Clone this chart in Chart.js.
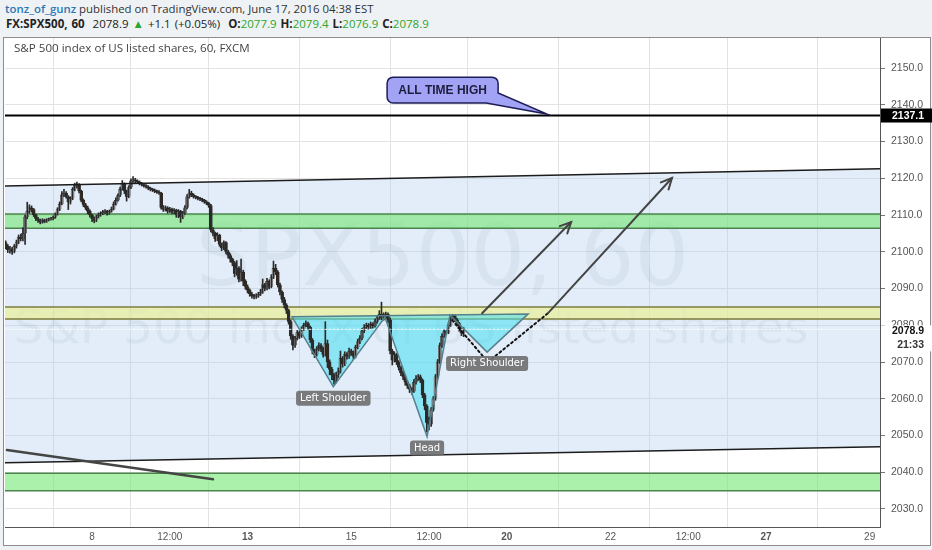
<!DOCTYPE html>
<html>
<head>
<meta charset="utf-8">
<script src="https://cdn.jsdelivr.net/npm/chart.js@4.4.1/dist/chart.umd.min.js"></script>
<style>
  html, body { margin: 0; padding: 0; background: #eff2f5; }
  #wrap { position: relative; width: 932px; height: 550px; overflow: hidden; }
  #h1 { position: absolute; left: 5px; top: 1px; font: 11.4px "Open Sans", sans-serif; color: #333; white-space: nowrap; }
  #h2 { position: absolute; left: 6px; top: 16px; font: 11.5px "Open Sans", sans-serif; color: #222; white-space: nowrap; word-spacing: 1px; }
  #h1 .u { color: #2a78b5; font-weight: 600; }
  .g { color: #2ca52c; }
  #pane { position: absolute; left: 3px; top: 37px; width: 928px; height: 509px; background: #fff; border: 1px solid #8c8c8c; box-sizing: border-box; }
  #pt { position: absolute; left: 14px; top: 40px; font: 11.6px "Open Sans", sans-serif; color: #444; z-index: 2; white-space: nowrap; }
  canvas { position: absolute; left: 0; top: 0; z-index: 1; }
</style>
</head>
<body>
<div id="wrap">
  <div id="h1"><span class="u">tonz_of_gunz</span> published on TradingView.com, June 17, 2016 04:38 EST</div>
  <div id="h2"><b>FX:SPX500, 60</b>&nbsp; 2078.9 <span class="g">&#9650;</span> +1.1 (+0.05%)&nbsp; <b>O:</b><span class="g">2077.9</span> <b>H:</b><span class="g">2079.4</span> <b>L:</b><span class="g">2076.9</span> <b>C:</b><span class="g">2078.9</span></div>
  <div id="pane"></div>
  <canvas id="chart" width="932" height="550"></canvas>
  <div id="pt">S&amp;P 500 index of US listed shares, 60, FXCM</div>
</div>
<script>
// hourly candles, x = trading hours counted from June 8 00:00
const firstHour = -40;
const opens = [
  2102.5, 2101.5, 2100.5, 2100.8, 2100, 2101.5, 2102.5, 2104, 2103.5, 2105,
  2109.5, 2111, 2112, 2111.5, 2110, 2109, 2108.5, 2108, 2108.6, 2108.2,
  2108.7, 2108.9, 2109, 2109.4, 2110.2, 2111.5, 2113, 2115.5, 2116, 2115,
  2113.5, 2114.5, 2117, 2118, 2118.3, 2116.5, 2114, 2112.8, 2112, 2111,
  2110, 2109, 2108.5, 2109.5, 2110, 2110.4, 2110.8, 2111, 2110.5, 2111,
  2111.6, 2113, 2114, 2115.3, 2117, 2118.5, 2116.5, 2115, 2117.5, 2119.3,
  2119.6, 2119.2, 2119, 2118.6, 2118.3, 2118, 2117.7, 2117.3, 2117, 2116.8,
  2116.5, 2116.3, 2116, 2112, 2111.5, 2112, 2111, 2111.6, 2110.8, 2111.3,
  2110, 2111, 2109.5, 2110.5, 2112, 2115, 2116, 2115.5, 2115, 2114.8,
  2114.5, 2114.3, 2114, 2113.6, 2113.2, 2112.6, 2106, 2105, 2103.5, 2104.5,
  2102, 2101, 2102.5, 2100, 2099, 2098, 2097, 2094, 2095.5, 2092.5,
  2094.5, 2092, 2090.5, 2089.5, 2088.5, 2088, 2087.8, 2088, 2088.5, 2089,
  2091, 2090, 2092, 2090.5, 2093, 2095.5, 2094.5, 2091, 2089, 2087,
  2085.5, 2084, 2081, 2077, 2074.5, 2076.5, 2078, 2077, 2079, 2080,
  2080.5, 2079.5, 2076, 2073, 2072, 2073.5, 2074.5, 2073.5, 2072, 2075,
  2070, 2068, 2066.5, 2065, 2066.5, 2067.5, 2071, 2069.5, 2072, 2071.5,
  2073, 2072.5, 2071.5, 2074, 2075.5, 2076.5, 2078.5, 2079.5, 2080, 2079.5,
  2080.3, 2079.8, 2081, 2082, 2083, 2082, 2082.5, 2083, 2081.5, 2073,
  2070.5, 2072, 2070, 2068.5, 2067, 2066, 2064.5, 2063.5, 2062.5, 2062,
  2064.5, 2065.5, 2066, 2065, 2061, 2058, 2053.5, 2053, 2057, 2060,
  2066, 2070, 2074.5, 2077, 2078.3, 2078, 2080, 2082, 2082.5, 2081.5,
  2080.5, 2079, 2077.9
];
const highs = [
  2103, 2102, 2101.5, 2101.2, 2102, 2103.2, 2104.6, 2104.8, 2106.5, 2110,
  2113.5, 2112.8, 2112.5, 2111.8, 2110.3, 2109.4, 2108.9, 2109, 2108.9, 2109,
  2109.2, 2109.4, 2109.8, 2110.6, 2112, 2113.6, 2116.4, 2117, 2116.4, 2115.3,
  2115, 2117.5, 2118.7, 2119, 2118.6, 2116.8, 2114.4, 2113.2, 2112.4, 2111.4,
  2110.3, 2109.5, 2110, 2110.6, 2110.9, 2111.3, 2111.5, 2111.3, 2111.4, 2112.2,
  2113.6, 2114.7, 2115.8, 2117.6, 2119.4, 2118.8, 2116.8, 2118, 2119.9, 2120.5,
  2120, 2119.6, 2119.3, 2118.9, 2118.6, 2118.3, 2118, 2117.6, 2117.3, 2117.1,
  2116.8, 2116.7, 2116.2, 2112.6, 2112.5, 2112.3, 2112.1, 2111.9, 2111.8, 2111.6,
  2111.5, 2111.3, 2111, 2112.6, 2115.6, 2117, 2116.5, 2115.8, 2115.3, 2115.1,
  2114.8, 2114.6, 2114.3, 2113.9, 2113.5, 2112.9, 2106.6, 2105.4, 2105.2, 2104.8,
  2102.4, 2103, 2102.8, 2100.4, 2099.5, 2098.3, 2097.4, 2097.6, 2096, 2098,
  2095, 2092.4, 2091, 2089.9, 2089, 2088.4, 2088.6, 2089, 2089.8, 2092.6,
  2091.4, 2092.8, 2092.4, 2093.8, 2097.5, 2096.6, 2094.9, 2091.5, 2089.4, 2087.6,
  2085.9, 2084.4, 2081.4, 2077.5, 2077, 2078.6, 2078.5, 2079.6, 2080.6, 2081.2,
  2080.9, 2079.8, 2076.4, 2073.5, 2074.2, 2075.2, 2075, 2074, 2081, 2076,
  2070.6, 2068.6, 2067, 2067.2, 2068.4, 2073, 2071.5, 2072.8, 2072.6, 2073.8,
  2073.5, 2073, 2074.6, 2076.2, 2077.2, 2079.2, 2080.2, 2080.6, 2080.5, 2080.9,
  2080.7, 2081.7, 2082.7, 2084, 2086.3, 2083.4, 2083.6, 2083.4, 2082, 2073.5,
  2072.8, 2072.4, 2070.4, 2068.9, 2067.5, 2066.4, 2065, 2064, 2063, 2065.2,
  2066.3, 2066.6, 2066.5, 2065.4, 2061.5, 2058.4, 2055, 2057.6, 2060.6, 2066.6,
  2070.7, 2075.2, 2077.7, 2078.8, 2078.7, 2080.6, 2082.6, 2083, 2082.8, 2081.9,
  2080.8, 2079.3, 2079.4
];
const lows = [
  2100.8, 2099.8, 2099.6, 2099.3, 2099.7, 2101, 2102.2, 2103, 2103, 2102,
  2109, 2110.5, 2110.8, 2109.6, 2108.5, 2108, 2107.6, 2107.8, 2107.9, 2108,
  2108.4, 2108.6, 2108.7, 2109.1, 2110, 2111.2, 2112.8, 2115, 2114.6, 2111.5,
  2113, 2114.2, 2116.6, 2117.4, 2116, 2113.6, 2112.3, 2111.5, 2110.4, 2109.4,
  2108.2, 2107.9, 2108.2, 2109.2, 2109.7, 2110.1, 2110.4, 2110, 2110.2, 2110.8,
  2111.4, 2112.7, 2113.8, 2115, 2116.8, 2115.8, 2113.8, 2114.7, 2117.2, 2118.9,
  2118.8, 2118.6, 2118.2, 2117.9, 2117.6, 2117.3, 2116.9, 2116.6, 2116.4, 2116.1,
  2115.9, 2115.6, 2111.6, 2111, 2111.1, 2110.5, 2110.7, 2110.3, 2110.4, 2109.4,
  2109.3, 2108, 2109, 2110.2, 2111.7, 2114.6, 2115, 2114.6, 2114.4, 2114.1,
  2113.9, 2113.6, 2113.2, 2112.8, 2112.1, 2105.4, 2104.3, 2102.8, 2103, 2101.5,
  2100.3, 2100.6, 2099.4, 2098.3, 2097.2, 2096.2, 2093.2, 2093.6, 2091.8, 2092,
  2090.8, 2089.8, 2088.8, 2087.9, 2087.4, 2087.2, 2087.3, 2087.6, 2088.1, 2088.7,
  2089.4, 2089.6, 2089.9, 2090.2, 2092.7, 2093.8, 2090.4, 2088.3, 2086.2, 2084.7,
  2083.2, 2080.3, 2076.2, 2073.3, 2074, 2076, 2076.4, 2076.7, 2078.6, 2079.6,
  2078.9, 2075.3, 2072.2, 2071.2, 2071.6, 2073, 2072.8, 2071.3, 2071.6, 2068.5,
  2066.5, 2065.2, 2064, 2064.3, 2065.8, 2067, 2068.6, 2069, 2070.8, 2071,
  2071.8, 2070.8, 2071.1, 2073.6, 2075, 2076.1, 2078, 2079, 2078.9, 2079.1,
  2079.2, 2079.5, 2080.6, 2081.6, 2081.5, 2081.4, 2082, 2080.8, 2072.2, 2069.2,
  2070, 2069.3, 2067.8, 2066.3, 2065.2, 2063.7, 2062.8, 2061.7, 2061.2, 2061.7,
  2064, 2065, 2064.4, 2060.3, 2057, 2051, 2051.5, 2052.5, 2056.6, 2059.6,
  2065.5, 2069.6, 2074, 2076.7, 2077.5, 2077.7, 2079.7, 2081.6, 2081, 2079.9,
  2078.4, 2077.2, 2076.9
];
const closes = [
  2101.5, 2100.5, 2100.8, 2100, 2101.5, 2102.5, 2104, 2103.5, 2105, 2109.5,
  2111, 2112, 2111.5, 2110, 2109, 2108.5, 2108, 2108.6, 2108.2, 2108.7,
  2108.9, 2109, 2109.4, 2110.2, 2111.5, 2113, 2115.5, 2116, 2115, 2113.5,
  2114.5, 2117, 2118, 2118.3, 2116.5, 2114, 2112.8, 2112, 2111, 2110,
  2109, 2108.5, 2109.5, 2110, 2110.4, 2110.8, 2111, 2110.5, 2111, 2111.6,
  2113, 2114, 2115.3, 2117, 2118.5, 2116.5, 2115, 2117.5, 2119.3, 2119.6,
  2119.2, 2119, 2118.6, 2118.3, 2118, 2117.7, 2117.3, 2117, 2116.8, 2116.5,
  2116.3, 2116, 2112, 2111.5, 2112, 2111, 2111.6, 2110.8, 2111.3, 2110,
  2111, 2109.5, 2110.5, 2112, 2115, 2116, 2115.5, 2115, 2114.8, 2114.5,
  2114.3, 2114, 2113.6, 2113.2, 2112.6, 2106, 2105, 2103.5, 2104.5, 2102,
  2101, 2102.5, 2100, 2099, 2098, 2097, 2094, 2095.5, 2092.5, 2094.5,
  2092, 2090.5, 2089.5, 2088.5, 2088, 2087.8, 2088, 2088.5, 2089, 2091,
  2090, 2092, 2090.5, 2093, 2095.5, 2094.5, 2091, 2089, 2087, 2085.5,
  2084, 2081, 2077, 2074.5, 2076.5, 2078, 2077, 2079, 2080, 2080.5,
  2079.5, 2076, 2073, 2072, 2073.5, 2074.5, 2073.5, 2072, 2075, 2070,
  2068, 2066.5, 2065, 2066.5, 2067.5, 2071, 2069.5, 2072, 2071.5, 2073,
  2072.5, 2071.5, 2074, 2075.5, 2076.5, 2078.5, 2079.5, 2080, 2079.5, 2080.3,
  2079.8, 2081, 2082, 2083, 2082, 2082.5, 2083, 2081.5, 2073, 2070.5,
  2072, 2070, 2068.5, 2067, 2066, 2064.5, 2063.5, 2062.5, 2062, 2064.5,
  2065.5, 2066, 2065, 2061, 2058, 2053.5, 2053, 2057, 2060, 2066,
  2070, 2074.5, 2077, 2078.3, 2078, 2080, 2082, 2082.5, 2081.5, 2080.5,
  2079, 2077.9, 2078.9
];

const xTickHours = [0, 36, 72, 120, 156, 192, 240, 276, 312, 360];
const xTickLabels = ['8', '12:00', '13', '15', '12:00', '20', '22', '12:00', '27', '29'];
const weekStarts = ['13', '20', '27'];
const yTicks = [2030, 2040, 2050, 2060, 2070, 2080, 2090, 2100, 2110, 2120, 2130, 2140, 2150];
const xMin = -40.3, xMax = 364.8, yMin = 2025.1, yMax = 2158.2;

// drawings, in [hour, price]
const athPrice = 2137.1;
const lastPrice = 2078.9;
const channelTop = [[-40.3, 2117.95], [364.8, 2122.6]];
const channelBottom = [[-40.3, 2042.6], [364.8, 2046.95]];
const greenBandHigh = [2106.4, 2110.3];
const yellowBand = [2081.7, 2085.0];
const greenBandLow = [2035.0, 2039.7];
const downTrend = [[-39.4, 2046.05], [56.0, 2038.1]];
const hsPoints = [[92.6, 2082.3], [111.7, 2063.3], [135.6, 2082.2], [155.1, 2049.7], [165.7, 2082.8], [182.9, 2072.7], [201.9, 2083.1]];
const hsLabels = [null, 'Left Shoulder', null, 'Head', null, 'Right Shoulder', null];
const arrows = [[[180.6, 2083.3], [221.8, 2108.1]], [[211.1, 2083.3], [268.5, 2120.1]]];
const dottedPath = [[166.7, 2081.4], [183.3, 2070.0], [211.1, 2083.3]];
const athBox = [[136.6, 2147.55], [188.0, 2140.5]];
const athTip = [210.6, 2137.5];

const hours = closes.map((c, i) => firstHour + i);

function band(ctx, a, y, range, fill, edge) {
  const yt = y.getPixelForValue(range[1]), yb = y.getPixelForValue(range[0]);
  ctx.fillStyle = fill;
  ctx.fillRect(a.left, yt, a.width, yb - yt);
  ctx.strokeStyle = edge;
  ctx.lineWidth = 1.5;
  ctx.beginPath();
  ctx.moveTo(a.left, yt); ctx.lineTo(a.right, yt);
  ctx.moveTo(a.left, yb); ctx.lineTo(a.right, yb);
  ctx.stroke();
}

function segment(ctx, p0, p1, color, w) {
  ctx.strokeStyle = color;
  ctx.lineWidth = w;
  ctx.beginPath(); ctx.moveTo(p0[0], p0[1]); ctx.lineTo(p1[0], p1[1]); ctx.stroke();
}

function roundBox(ctx, l, t, w, h, r) {
  ctx.beginPath();
  ctx.moveTo(l + r, t);
  ctx.arcTo(l + w, t, l + w, t + h, r);
  ctx.arcTo(l + w, t + h, l, t + h, r);
  ctx.arcTo(l, t + h, l, t, r);
  ctx.arcTo(l, t, l + w, t, r);
  ctx.closePath();
}

const drawings = {
  id: 'drawings',
  beforeDatasetsDraw(chart) {
    const { ctx, chartArea: a, scales: { x, y } } = chart;
    const P = p => [x.getPixelForValue(p[0]), y.getPixelForValue(p[1])];
    ctx.save();
    ctx.beginPath(); ctx.rect(a.left, a.top, a.width, a.height); ctx.clip();

    // parallel channel
    const t0 = P(channelTop[0]), t1 = P(channelTop[1]), b0 = P(channelBottom[0]), b1 = P(channelBottom[1]);
    ctx.fillStyle = 'rgba(176,204,238,0.36)';
    ctx.beginPath();
    ctx.moveTo(t0[0], t0[1]); ctx.lineTo(t1[0], t1[1]); ctx.lineTo(b1[0], b1[1]); ctx.lineTo(b0[0], b0[1]);
    ctx.closePath(); ctx.fill();

    // watermark
    ctx.fillStyle = 'rgba(90,105,130,0.075)';
    ctx.textAlign = 'center';
    ctx.textBaseline = 'alphabetic';
    ctx.font = '86px "DejaVu Sans"';
    ctx.fillText('SPX500, 60', (a.left + a.right) / 2, a.top + 247);
    ctx.font = '47px "DejaVu Sans"';
    ctx.fillText('S&P 500 index of US listed shares', a.left + 406, a.top + 305);

    // zones
    band(ctx, a, y, greenBandHigh, 'rgba(120,230,120,0.62)', '#4b854b');
    band(ctx, a, y, yellowBand, 'rgba(235,240,140,0.62)', '#7e7e3e');
    band(ctx, a, y, greenBandLow, 'rgba(120,230,120,0.62)', '#4b854b');

    // head and shoulders fill
    ctx.fillStyle = 'rgba(70,222,240,0.55)';
    ctx.beginPath();
    hsPoints.forEach((p, i) => { const q = P(p); i ? ctx.lineTo(q[0], q[1]) : ctx.moveTo(q[0], q[1]); });
    ctx.closePath(); ctx.fill();
    ctx.restore();
  },
  afterDatasetsDraw(chart) {
    const { ctx, chartArea: a, scales: { x, y } } = chart;
    const P = p => [x.getPixelForValue(p[0]), y.getPixelForValue(p[1])];
    ctx.save();
    ctx.beginPath(); ctx.rect(a.left, a.top, a.width, a.height); ctx.clip();
    ctx.lineCap = 'round';

    // last price line
    const yl = y.getPixelForValue(lastPrice);
    ctx.setLineDash([2, 2]);
    segment(ctx, [a.left, yl], [a.right, yl], 'rgba(255,255,255,0.9)', 1);
    ctx.setLineDash([]);

    // trend lines
    segment(ctx, P(channelTop[0]), P(channelTop[1]), '#1c1c1c', 1.5);
    segment(ctx, P(channelBottom[0]), P(channelBottom[1]), '#1c1c1c', 1.5);
    const ya = y.getPixelForValue(athPrice);
    segment(ctx, [a.left, ya], [a.right, ya], '#000', 2);
    segment(ctx, P(downTrend[0]), P(downTrend[1]), '#454545', 2.5);

    // head and shoulders outline
    ctx.strokeStyle = '#55808e';
    ctx.lineWidth = 1.5;
    ctx.beginPath();
    hsPoints.forEach((p, i) => { const q = P(p); i ? ctx.lineTo(q[0], q[1]) : ctx.moveTo(q[0], q[1]); });
    ctx.closePath(); ctx.stroke();

    // projected path
    ctx.setLineDash([2, 3]);
    ctx.strokeStyle = '#111';
    ctx.lineWidth = 2;
    ctx.beginPath();
    dottedPath.forEach((p, i) => { const q = P(p); i ? ctx.lineTo(q[0], q[1]) : ctx.moveTo(q[0], q[1]); });
    ctx.stroke();
    ctx.setLineDash([]);

    // arrows
    arrows.forEach(([s, e]) => {
      const p0 = P(s), p1 = P(e);
      segment(ctx, p0, p1, '#444', 2);
      const ang = Math.atan2(p1[1] - p0[1], p1[0] - p0[0]);
      ctx.beginPath();
      ctx.moveTo(p1[0] - 12 * Math.cos(ang - 0.45), p1[1] - 12 * Math.sin(ang - 0.45));
      ctx.lineTo(p1[0], p1[1]);
      ctx.lineTo(p1[0] - 12 * Math.cos(ang + 0.45), p1[1] - 12 * Math.sin(ang + 0.45));
      ctx.stroke();
    });

    // pattern labels
    ctx.font = '10px "DejaVu Sans"';
    ctx.textAlign = 'center';
    ctx.textBaseline = 'middle';
    hsPoints.forEach((p, i) => {
      if (!hsLabels[i]) return;
      const q = P(p);
      const w = ctx.measureText(hsLabels[i]).width + 8;
      ctx.fillStyle = 'rgba(112,112,112,0.92)';
      roundBox(ctx, q[0] - w / 2, q[1] + 4, w, 15, 3);
      ctx.fill();
      ctx.fillStyle = '#fff';
      ctx.fillText(hsLabels[i], q[0], q[1] + 11.5);
    });

    // callout
    const c0 = P(athBox[0]), c1 = P(athBox[1]), tip = P(athTip);
    const l = c0[0], t = c0[1], r = c1[0], b = c1[1], rad = 6;
    ctx.beginPath();
    ctx.moveTo(l + rad, t);
    ctx.arcTo(r, t, r, t + rad, rad);
    ctx.lineTo(r, b - 10);
    ctx.lineTo(tip[0], tip[1]);
    ctx.lineTo(r - 12, b);
    ctx.arcTo(l, b, l, b - rad, rad);
    ctx.arcTo(l, t, l + rad, t, rad);
    ctx.closePath();
    ctx.fillStyle = '#a3a3f6';
    ctx.fill();
    ctx.strokeStyle = '#1d1d55';
    ctx.lineWidth = 1.5;
    ctx.stroke();
    ctx.fillStyle = '#1c1c3c';
    ctx.font = 'bold 12px "Liberation Sans"';
    ctx.fillText('ALL TIME HIGH', (l + r) / 2, (t + b) / 2 + 1);
    ctx.restore();
  },
  afterDraw(chart) {
    const { ctx, chartArea: a, scales: { y } } = chart;
    ctx.save();
    const ya = y.getPixelForValue(athPrice);
    ctx.fillStyle = '#000';
    ctx.fillRect(a.right + 1, ya - 7, 51, 14);
    ctx.fillStyle = '#fff';
    ctx.font = 'bold 10.5px "Liberation Sans"';
    ctx.textAlign = 'left';
    ctx.textBaseline = 'middle';
    ctx.fillText(athPrice.toFixed(1), a.right + 12, ya + 0.5);

    const yl = y.getPixelForValue(lastPrice);
    ctx.fillStyle = '#fff';
    ctx.fillRect(a.right + 1, yl - 4, 51, 26);
    ctx.fillStyle = '#111';
    ctx.fillText(lastPrice.toFixed(1), a.right + 12, yl + 2);
    ctx.textAlign = 'right';
    ctx.fillStyle = '#333';
    ctx.fillText('21:33', a.right + 44, yl + 16);
    ctx.restore();
  }
};

Chart.defaults.font.family = '"Liberation Sans", Arial, sans-serif';

new Chart(document.getElementById('chart').getContext('2d'), {
  type: 'bar',
  data: {
    datasets: [{
      label: 'wicks',
      data: hours.map((h, i) => ({ x: h, y: [lows[i], highs[i]] })),
      backgroundColor: '#2a2a2a',
      barThickness: 1,
      grouped: false
    }, {
      label: 'bodies',
      data: hours.map((h, i) => ({ x: h, y: [opens[i], closes[i]] })),
      backgroundColor: c => closes[c.dataIndex] >= opens[c.dataIndex] ? '#ffffff' : '#3b2719',
      borderColor: '#2a2a2a',
      borderWidth: 0.7,
      barThickness: 3,
      minBarLength: 1,
      grouped: false
    }]
  },
  options: {
    responsive: false,
    animation: false,
    layout: { padding: { left: 5, top: 38, right: 0, bottom: 5 } },
    plugins: { legend: { display: false }, tooltip: { enabled: false } },
    scales: {
      x: {
        type: 'linear',
        min: xMin,
        max: xMax,
        offset: false,
        afterBuildTicks: s => { s.ticks = xTickHours.map(v => ({ value: v })); },
        afterFit: s => { s.height = 18; },
        ticks: {
          autoSkip: false,
          maxRotation: 0,
          minRotation: 0,
          padding: 4,
          color: '#555',
          font: c => ({ size: 10, weight: weekStarts.includes(xTickLabels[c.index]) ? 'bold' : 'normal' }),
          callback: (v, i) => xTickLabels[i]
        },
        grid: { color: '#e3e3e3', drawTicks: false },
        border: { color: '#555' }
      },
      y: {
        position: 'right',
        min: yMin,
        max: yMax,
        afterBuildTicks: s => { s.ticks = yTicks.map(v => ({ value: v })); },
        afterFit: s => { s.width = 52; },
        ticks: { padding: 6, color: '#555', font: { size: 10.5 }, callback: v => v.toFixed(1) },
        grid: { color: '#e3e3e3', tickLength: 5, tickColor: '#777' },
        border: { color: '#555' }
      }
    }
  },
  plugins: [drawings]
});
</script>
</body>
</html>
